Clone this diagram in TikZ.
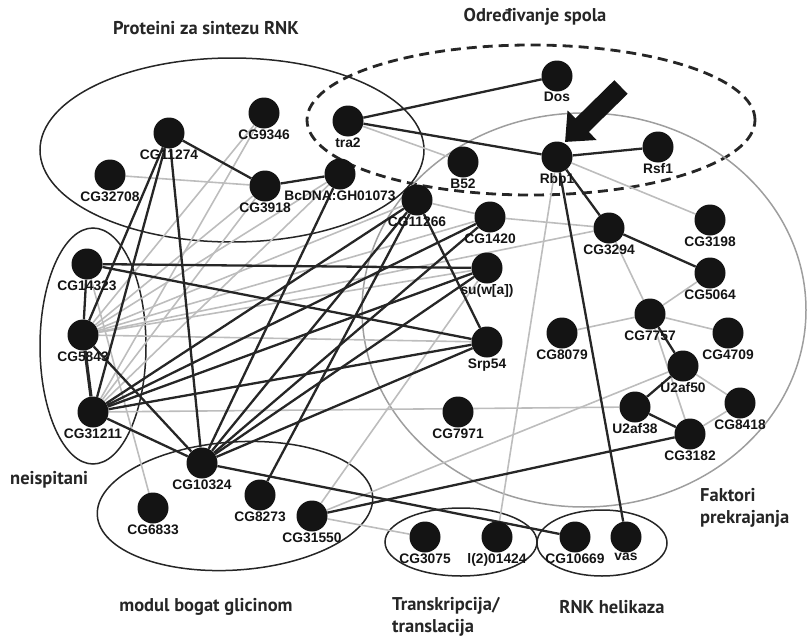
\documentclass[tikz,border=0pt]{standalone}
\usepackage{fontspec}
\setmainfont{Liberation Sans}
\newfontfamily\grpfont{PT Sans}
\usetikzlibrary{arrows.meta,backgrounds}

\definecolor{nodeblack}{gray}{0.08}
\definecolor{edgegray}{gray}{0.74}
\definecolor{ringgray}{gray}{0.62}

\begin{document}
\begin{tikzpicture}[x=1pt,y=-1pt,
   gene/.style={circle,fill=nodeblack,minimum size=31pt,inner sep=0pt},
   every label/.style={font=\fontsize{13.8}{14}\selectfont\bfseries,inner sep=0pt,text=nodeblack},
   label distance=0.5pt,
   bk/.style={draw=black!85,line width=2.3pt},
   gr/.style={draw=edgegray,line width=1.6pt},
   grp/.style={draw=black!85,line width=1.5pt},
   grptxt/.style={font=\grpfont\fontsize{18.5}{22}\selectfont\bfseries,inner sep=0pt,text=black!85}]
   \useasboundingbox (0,0) rectangle (809,637);

   \node[gene,label=below:CG11274]   (cg11274) at (169,133) {};
   \node[gene,label=below:CG9346]    (cg9346)  at (264,113) {};
   \node[gene,label=below:tra2]      (tra2)    at (348,121) {};
   \node[gene,label=below:Dos]       (dos)     at (557,76)  {};
   \node[gene,label=below:Rbp1]      (rbp1)    at (557,157) {};
   \node[gene,label=below:Rsf1]      (rsf1)    at (658,147) {};
   \node[gene,label=below:CG32708]   (cg32708) at (110,175) {};
   \node[gene,label=below:CG3918]    (cg3918)  at (265,186) {};
   \node[gene,label=below:BcDNA:GH01073] (bcdna) at (340,174) {};
   \node[gene,label=below:B52]       (b52)     at (463,162) {};
   \node[gene,label=below:CG11266]   (cg11266) at (417,200) {};
   \node[gene,label=below:CG1420]    (cg1420)  at (490,217) {};
   \node[gene,label=below:CG3294]    (cg3294)  at (609,228) {};
   \node[gene,label=below:CG3198]    (cg3198)  at (710,220) {};
   \node[gene,label=below:CG5064]    (cg5064)  at (710,273) {};
   \node[gene,label={below:{su(w[a])}}] (suwa) at (487,268) {};
   \node[gene,label=below:CG14323]   (cg14323) at (87,264)  {};
   \node[gene,label=below:CG5843]    (cg5843)  at (83,335)  {};
   \node[gene,label=below:Srp54]     (srp54)   at (487,342) {};
   \node[gene,label=below:CG7757]    (cg7757)  at (650,314) {};
   \node[gene,label=below:CG8079]    (cg8079)  at (562,333) {};
   \node[gene,label=below:CG4709]    (cg4709)  at (728,333) {};
   \node[gene,label=below:U2af50]    (u2af50)  at (683,366) {};
   \node[gene,label=below:CG31211]   (cg31211) at (93,412)  {};
   \node[gene,label=below:CG7971]    (cg7971)  at (458,412) {};
   \node[gene,label=below:U2af38]    (u2af38)  at (635,407) {};
   \node[gene,label=below:CG8418]    (cg8418)  at (740,403) {};
   \node[gene,label=below:CG3182]    (cg3182)  at (690,434) {};
   \node[gene,label=below:CG10324]   (cg10324) at (202,463) {};
   \node[gene,label=below:CG8273]    (cg8273)  at (260,495) {};
   \node[gene,label=below:CG31550]   (cg31550) at (312,516) {};
   \node[gene,label=below:CG6833]    (cg6833)  at (153,508) {};
   \node[gene,label=below:CG3075]    (cg3075)  at (425,537) {};
   \node[gene,label=below:l(2)01424] (l201424) at (497,537) {};
   \node[gene,label=below:CG10669]   (cg10669) at (575,537) {};
   \node[gene,label=below:vas]       (vas)     at (626,537) {};

   \coordinate (arrtail) at (621,87);
   \coordinate (arrhead) at (565,142);
   \draw[line width=19pt,nodeblack,-{Triangle[length=24pt,width=40pt]}] (arrtail) -- (arrhead);

   \node[grptxt] (tproteini) at (206,28) {Proteini za sintezu RNK};
   \node[grptxt] (tspol) at (535,17) {Određivanje spola};
   \node[grptxt,anchor=west] (tneisp) at (10,480) {neispitani};
   \node[grptxt,anchor=north west,align=left] (tfakt) at (700,488) {Faktori\\prekrajanja};
   \node[grptxt] (tmodul) at (206,607) {modul bogat glicinom};
   \node[grptxt,anchor=north west,align=left] (ttrans) at (392,597) {Transkripcija/\\translacija};
   \node[grptxt] (trnk) at (612,607) {RNK helikaza};

   \begin{scope}[on background layer]
   \draw[grp] (232,150) ellipse [x radius=192pt,y radius=92pt];
   \draw[grp,dashed,line width=2.8pt,dash pattern=on 10pt off 6pt] (531,120) ellipse [x radius=224pt,y radius=75pt];
   \draw[draw=ringgray,line width=1.5pt] (584,310) ellipse [x radius=222pt,y radius=197pt];
   \draw[grp] (93,346) ellipse [x radius=53pt,y radius=118pt];
   \draw[grp] (235,506) ellipse [x radius=138pt,y radius=64pt,rotate=4];
   \draw[grp] (461,542) ellipse [x radius=76pt,y radius=34pt];
   \draw[grp] (602,543) ellipse [x radius=65pt,y radius=33pt];

   \path[gr]
    (cg32708) edge (cg3918)
    (tra2) edge (b52)
    (rbp1) edge (cg3198)
    (rbp1) edge (l201424)
    (cg3294) edge (cg7757)
    (cg11266) edge (cg1420)
    (cg1420) edge (cg3294)
    (cg5843) edge (cg3294)
    (cg7757) edge (cg8079)
    (cg7757) edge (cg4709)
    (cg7757) edge (cg5064)
    (cg7757) edge (cg3182)
    (u2af50) edge (cg8418)
    (cg3182) edge (cg8418)
    (cg31550) edge (u2af50)
    (cg31550) edge (cg3075)
    (cg31211) edge (u2af38)
    (cg14323) edge (cg6833)
    (cg9346) edge (cg31211)
    (cg9346) edge (cg5843)
    (cg3918) edge (cg5843)
    (cg3918) edge (cg31211)
    (bcdna) edge (cg5843)
    (bcdna) edge (cg31211)
    (cg11266) edge (cg5843)
    (cg5843) edge (suwa)
    (cg5843) edge (srp54)
    (cg5843) edge (cg1420)
    (cg31211) edge (suwa)
    (suwa) edge (cg31550);

   \path[bk]
    (cg11274) edge (cg3918)
    (cg3918) edge (bcdna)
    (tra2) edge (dos)
    (tra2) edge (rbp1)
    (rbp1) edge (rsf1)
    (rbp1) edge (cg3294)
    (cg3294) edge (cg5064)
    (rbp1) edge (vas)
    (cg11274) edge (cg10324)
    (cg11274) edge (cg5843)
    (cg11274) edge (cg31211)
    (cg14323) edge (cg5843)
    (cg5843) edge[line width=3.2pt] (cg31211)
    (cg14323) edge (suwa)
    (cg14323) edge (srp54)
    (cg5843) edge (cg10324)
    (cg31211) edge (cg10324)
    (cg10324) edge (bcdna)
    (cg10324) edge (cg11266)
    (cg10324) edge (cg1420)
    (cg10324) edge (suwa)
    (cg10324) edge (srp54)
    (cg31211) edge (cg11266)
    (cg31211) edge (cg1420)
    (cg31211) edge (suwa)
    (cg31211) edge (srp54)
    (cg8273) edge (cg11266)
    (cg11266) edge (srp54)
    (cg10324) edge (cg10669)
    (cg31550) edge (cg3182)
    (u2af38) edge (cg3182)
    (u2af38) edge (u2af50)
    (cg7757) edge (u2af50);
   \end{scope}
\end{tikzpicture}
\end{document}
